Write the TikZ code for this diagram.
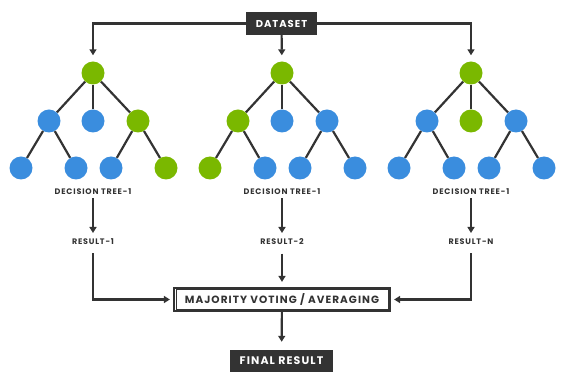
\documentclass[tikz,border=0pt]{standalone}
\usepackage{fontspec}
\setmainfont{Poppins}
\newfontfamily\spacedfont[LetterSpace=10]{Poppins}
\usetikzlibrary{arrows.meta}

\definecolor{treegreen}{HTML}{7AB800}
\definecolor{treeblue}{HTML}{3A8DDE}
\definecolor{boxgray}{HTML}{333333}

\tikzset{
  dot/.style={circle,fill=#1,minimum size=23pt,inner sep=0pt},
  branch/.style={draw=boxgray,line width=2.2pt},
  flow/.style={draw=boxgray,line width=2.2pt,->},
  caption/.style={text=boxgray,font=\spacedfont\bfseries\fontsize{8}{9}\selectfont},
  darkbox/.style={fill=boxgray,text=white,inner sep=0pt},
}

\begin{document}
\begin{tikzpicture}[x=1pt,y=-1pt,>={Triangle[length=6pt,width=7pt]}]
\useasboundingbox (0,0) rectangle (568,379);
% ---------- dataset ----------
\node[darkbox,minimum width=71pt,minimum height=23pt,
  font=\spacedfont\bfseries\fontsize{10}{12}\selectfont] (data) at (281.5,23.5) {DATASET};
% ---------- three trees ----------
\foreach \t/\x/\cr/\ca/\cb/\cc/\cd/\ce/\cf/\cg in {
  1/93/treegreen/treeblue/treeblue/treegreen/treeblue/treeblue/treeblue/treegreen,
  2/282/treegreen/treegreen/treeblue/treeblue/treegreen/treeblue/treeblue/treeblue,
  3/471/treegreen/treeblue/treegreen/treeblue/treeblue/treeblue/treeblue/treeblue}{
  % nodes
  \node[dot=\cr] (\t-r) at (\x,73) {};
  \node[dot=\ca] (\t-a) at (\x-44,121) {};
  \node[dot=\cb] (\t-b) at (\x,121) {};
  \node[dot=\cc] (\t-c) at (\x+45,121) {};
  \node[dot=\cd] (\t-1) at (\x-72,168) {};
  \node[dot=\ce] (\t-2) at (\x-17,168) {};
  \node[dot=\cf] (\t-3) at (\x+18,168) {};
  \node[dot=\cg] (\t-4) at (\x+73,168) {};
  % branches
  \draw[branch] (\t-r) -- (\t-a);
  \draw[branch] (\t-r) -- (\t-b);
  \draw[branch] (\t-r) -- (\t-c);
  \draw[branch] (\t-a) -- (\t-1);
  \draw[branch] (\t-a) -- (\t-2);
  \draw[branch] (\t-c) -- (\t-3);
  \draw[branch] (\t-c) -- (\t-4);
  % captions
  \node[caption] (tree\t) at (\x,192) {DECISION TREE-1};
  \draw[flow,shorten >=9pt] (tree\t) -- (\x,242);
}
\node[caption] (res1) at (93,242) {RESULT-1};
\node[caption] (res2) at (282,242) {RESULT-2};
\node[caption] (resn) at (471,242) {RESULT-N};
% dataset to the roots
\draw[flow,shorten >=6pt] (data.west) -| (1-r);
\draw[flow,shorten >=6pt] (data) -- (2-r);
\draw[flow,shorten >=6pt] (data.east) -| (3-r);
% ---------- voting ----------
\node[draw=boxgray,line width=2.2pt,minimum width=216pt,minimum height=23pt,
  text=boxgray,font=\spacedfont\bfseries\fontsize{10.5}{13}\selectfont] (vote) at (282,299.5)
  {MAJORITY VOTING / AVERAGING};
\draw[boxgray,line width=0.8pt] ([shift={(3pt,-3pt)}]vote.north west)
  rectangle ([shift={(-3pt,3pt)}]vote.south east);
\draw[flow,shorten <=5pt,shorten >=3pt] (res1) |- (vote.west);
\draw[flow,shorten <=5pt,shorten >=5pt] (res2) -- (vote);
\draw[flow,shorten <=5pt,shorten >=3pt] (resn) |- (vote.east);
% ---------- final ----------
\node[darkbox,minimum width=103pt,minimum height=22pt,
  font=\spacedfont\bfseries\fontsize{11}{13}\selectfont] (final) at (281.5,361) {FINAL RESULT};
\draw[flow,shorten >=8pt] (vote) -- (final);
\end{tikzpicture}
\end{document}
